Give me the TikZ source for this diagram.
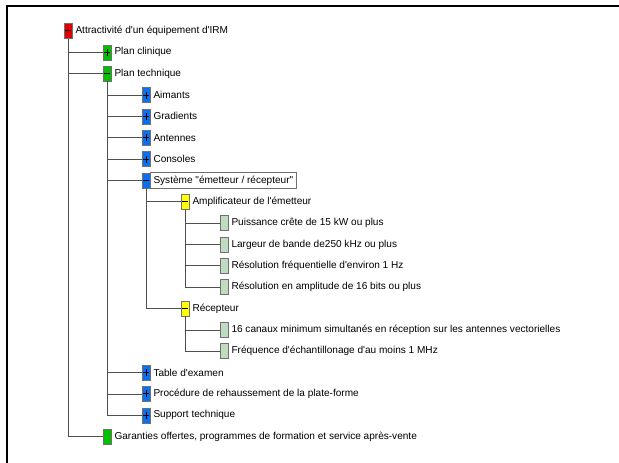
\documentclass[tikz,border=0pt]{standalone}
\usepackage{fontspec}
\newfontfamily\uifont{Liberation Sans}
\definecolor{boxgray}{HTML}{707070}
\definecolor{linegray}{HTML}{505050}
\definecolor{cred}{HTML}{E00000}
\definecolor{cgreen}{HTML}{00C000}
\definecolor{cblue}{HTML}{0A70F0}
\definecolor{cyellow}{HTML}{FFFF00}
\definecolor{cleaf}{HTML}{C0DCC0}
\tikzset{
  bx/.style={draw=boxgray, line width=0.6bp, minimum width=8bp, minimum height=15bp, inner sep=0pt},
  minusbox/.style={bx, path picture={\draw[black, line width=1bp] ([xshift=-3bp]path picture bounding box.center) -- ([xshift=3bp]path picture bounding box.center);}},
  plusbox/.style={bx, path picture={\draw[black, line width=1bp] ([xshift=-3bp]path picture bounding box.center) -- ([xshift=3bp]path picture bounding box.center) ([yshift=-3.5bp]path picture bounding box.center) -- ([yshift=3.5bp]path picture bounding box.center);}},
  lbl/.style={anchor=west, inner sep=0pt, xshift=3bp, font=\uifont\fontsize{10.1}{12}\selectfont},
  conn/.style={draw=linegray, line width=0.8bp},
  selrect/.style={draw=boxgray, line width=0.6bp}
}
\begin{document}
\begin{tikzpicture}[x=1bp,y=-1bp]
\useasboundingbox (0,0) rectangle (619,463);
\fill[white] (0,0) rectangle (619,463);
\draw[line width=2bp] (7,463) -- (7,5.8) -- (619,5.8);
% level 0
\node[minusbox, fill=cred] (r) at (68,31) {};
\node[lbl] (rt) at (r.east) {Attractivité d'un équipement d'IRM};
% level 1
\node[plusbox, fill=cgreen] (pc) at (107,52.35) {};
\node[lbl] (pct) at (pc.east) {Plan clinique};
\node[minusbox, fill=cgreen] (pt) at (107,73.7) {};
\node[lbl] (ptt) at (pt.east) {Plan technique};
% level 2
\node[plusbox, fill=cblue] (aim) at (146,95.05) {};
\node[lbl] (aimt) at (aim.east) {Aimants};
\node[plusbox, fill=cblue] (gra) at (146,116.4) {};
\node[lbl] (grat) at (gra.east) {Gradients};
\node[plusbox, fill=cblue] (ant) at (146,137.75) {};
\node[lbl] (antt) at (ant.east) {Antennes};
\node[plusbox, fill=cblue] (con) at (146,159.1) {};
\node[lbl] (cont) at (con.east) {Consoles};
\node[minusbox, fill=cblue] (sys) at (146,180.45) {};
\node[lbl] (syst) at (sys.east) {Système "émetteur / récepteur"};
\draw[selrect] (sys.north east) rectangle ([xshift=3bp]syst.east |- sys.south);
% level 3
\node[minusbox, fill=cyellow] (amp) at (185,201.8) {};
\node[lbl] (ampt) at (amp.east) {Amplificateur de l'émetteur};
% level 4
\node[bx, fill=cleaf] (pui) at (224,223.15) {};
\node[lbl] (puit) at (pui.east) {Puissance crête de 15 kW ou plus};
\node[bx, fill=cleaf] (lar) at (224,244.5) {};
\node[lbl] (lart) at (lar.east) {Largeur de bande de250 kHz ou plus};
\node[bx, fill=cleaf] (rf) at (224,265.85) {};
\node[lbl] (rft) at (rf.east) {Résolution fréquentielle d'environ 1 Hz};
\node[bx, fill=cleaf] (ra) at (224,287.2) {};
\node[lbl] (rat) at (ra.east) {Résolution en amplitude de 16 bits ou plus};
\node[minusbox, fill=cyellow] (rec) at (185,308.55) {};
\node[lbl] (rect) at (rec.east) {Récepteur};
\node[bx, fill=cleaf] (can) at (224,329.9) {};
\node[lbl] (cant) at (can.east) {16 canaux minimum simultanés en réception sur les antennes vectorielles};
\node[bx, fill=cleaf] (fre) at (224,351.25) {};
\node[lbl] (fret) at (fre.east) {Fréquence d'échantillonage d'au moins 1 MHz};
\node[plusbox, fill=cblue] (tab) at (146,372.6) {};
\node[lbl] (tabt) at (tab.east) {Table d'examen};
\node[plusbox, fill=cblue] (pro) at (146,393.95) {};
\node[lbl] (prot) at (pro.east) {Procédure de rehaussement de la plate-forme};
\node[plusbox, fill=cblue] (sup) at (146,415.3) {};
\node[lbl] (supt) at (sup.east) {Support technique};
\node[bx, fill=cgreen] (gar) at (107,436.65) {};
\node[lbl] (gart) at (gar.east) {Garanties offertes, programmes de formation et service après-vente};
% connectors
\foreach \c in {pc,pt,gar} \draw[conn] (r.south) |- (\c.west);
\foreach \c in {aim,gra,ant,con,sys,tab,pro,sup} \draw[conn] (pt.south) |- (\c.west);
\foreach \c in {amp,rec} \draw[conn] (sys.south) |- (\c.west);
\foreach \c in {pui,lar,rf,ra} \draw[conn] (amp.south) |- (\c.west);
\foreach \c in {can,fre} \draw[conn] (rec.south) |- (\c.west);
\end{tikzpicture}
\end{document}
